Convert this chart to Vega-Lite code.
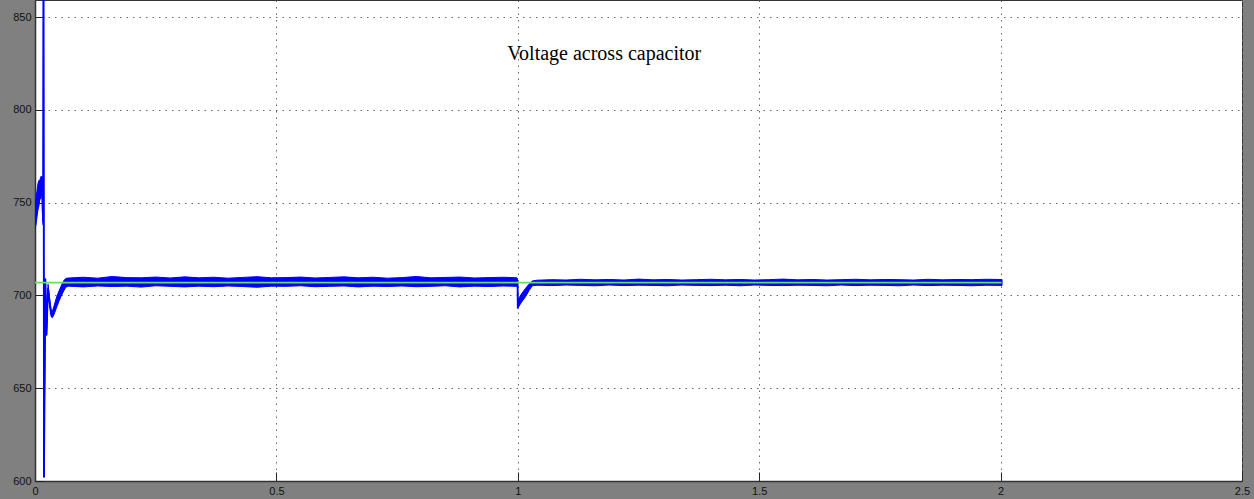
{
  "$schema": "https://vega.github.io/schema/vega-lite/v6.json",
  "width": 1207,
  "height": 481,
  "autosize": {"type": "none"},
  "padding": {"left": 35, "top": 0, "right": 12, "bottom": 18},
  "background": "#808080",
  "config": {
    "view": {"fill": "white", "stroke": "#333333", "strokeWidth": 1},
    "axis": {
      "grid": true, "gridColor": "#666666", "gridDash": [1.5, 5], "gridWidth": 1,
      "domainColor": "#333333", "domainWidth": 1.5,
      "tickColor": "#222222", "tickSize": -9, "labelPadding": 13,
      "labelFont": "Liberation Sans", "labelFontSize": 11, "labelColor": "#111111",
      "labelFlush": false, "labelOverlap": false, "title": null
    }
  },
  "datasets": {
    "vc": [
      {"t": 0.0, "v": 740, "lo": 736, "hi": 748},
      {"t": 0.002, "v": 748, "lo": 738, "hi": 752},
      {"t": 0.004, "v": 744, "lo": 742, "hi": 756},
      {"t": 0.006, "v": 756, "lo": 746, "hi": 760},
      {"t": 0.008, "v": 750, "lo": 748, "hi": 762},
      {"t": 0.010, "v": 760, "lo": 752, "hi": 762},
      {"t": 0.012, "v": 756, "lo": 752, "hi": 764},
      {"t": 0.0145, "v": 764, "lo": 756, "hi": 764},
      {"t": 0.016, "v": 745, "lo": 740, "hi": 752},
      {"t": 0.017, "v": 740, "lo": 738, "hi": 742},
      {"t": 0.0176, "v": 900, "lo": 900, "hi": 900},
      {"t": 0.0186, "v": 602, "lo": 602, "hi": 602},
      {"t": 0.0215, "v": 709, "lo": 709, "hi": 709},
      {"t": 0.0238, "v": 678.5, "lo": 678.5, "hi": 678.5},
      {"t": 0.027, "v": 704, "lo": 702, "hi": 706},
      {"t": 0.030, "v": 697, "lo": 695, "hi": 699},
      {"t": 0.0335, "v": 690, "lo": 688.5, "hi": 692},
      {"t": 0.036, "v": 689.5, "lo": 688, "hi": 691.5},
      {"t": 0.039, "v": 691.5, "lo": 689.5, "hi": 694},
      {"t": 0.044, "v": 695.5, "lo": 693, "hi": 698.5},
      {"t": 0.049, "v": 699, "lo": 696.5, "hi": 702},
      {"t": 0.054, "v": 702, "lo": 699.5, "hi": 705},
      {"t": 0.0596, "v": 705, "lo": 702.5, "hi": 708},
      {"t": 0.064, "v": 706.5, "lo": 704.5, "hi": 709.2},
      {"t": 0.07, "v": 707, "lo": 705.0, "hi": 709.4},
      {"t": 0.10, "v": 707, "lo": 704.6, "hi": 709.8},
      {"t": 0.13, "v": 707, "lo": 705.1, "hi": 709.3},
      {"t": 0.16, "v": 707, "lo": 704.8, "hi": 710.2},
      {"t": 0.19, "v": 707, "lo": 705.0, "hi": 709.6},
      {"t": 0.22, "v": 707, "lo": 704.5, "hi": 709.5},
      {"t": 0.25, "v": 707, "lo": 705.2, "hi": 709.9},
      {"t": 0.28, "v": 707, "lo": 704.9, "hi": 709.4},
      {"t": 0.31, "v": 707, "lo": 704.6, "hi": 710.0},
      {"t": 0.34, "v": 707, "lo": 705.0, "hi": 709.5},
      {"t": 0.37, "v": 707, "lo": 704.7, "hi": 709.8},
      {"t": 0.40, "v": 707, "lo": 705.1, "hi": 709.3},
      {"t": 0.43, "v": 707, "lo": 704.8, "hi": 709.7},
      {"t": 0.46, "v": 707, "lo": 704.4, "hi": 710.1},
      {"t": 0.49, "v": 707, "lo": 705.0, "hi": 709.5},
      {"t": 0.52, "v": 707, "lo": 704.9, "hi": 709.6},
      {"t": 0.55, "v": 707, "lo": 705.2, "hi": 709.9},
      {"t": 0.58, "v": 707, "lo": 704.7, "hi": 709.4},
      {"t": 0.61, "v": 707, "lo": 704.9, "hi": 709.7},
      {"t": 0.64, "v": 707, "lo": 705.1, "hi": 710.0},
      {"t": 0.67, "v": 707, "lo": 704.6, "hi": 709.5},
      {"t": 0.70, "v": 707, "lo": 705.0, "hi": 709.8},
      {"t": 0.73, "v": 707, "lo": 704.8, "hi": 709.3},
      {"t": 0.76, "v": 707, "lo": 705.1, "hi": 709.6},
      {"t": 0.79, "v": 707, "lo": 704.7, "hi": 710.2},
      {"t": 0.82, "v": 707, "lo": 704.9, "hi": 709.5},
      {"t": 0.85, "v": 707, "lo": 705.2, "hi": 709.7},
      {"t": 0.88, "v": 707, "lo": 704.6, "hi": 709.9},
      {"t": 0.91, "v": 707, "lo": 705.0, "hi": 709.4},
      {"t": 0.94, "v": 707, "lo": 704.8, "hi": 709.6},
      {"t": 0.97, "v": 707, "lo": 705.1, "hi": 709.8},
      {"t": 0.998, "v": 707, "lo": 704.9, "hi": 709.5},
      {"t": 0.9995, "v": 706, "lo": 704.5, "hi": 709.0},
      {"t": 1.0, "v": 693, "lo": 693, "hi": 697},
      {"t": 1.002, "v": 696, "lo": 694, "hi": 698.4},
      {"t": 1.008, "v": 698.8, "lo": 696.5, "hi": 701},
      {"t": 1.016, "v": 701.5, "lo": 699.3, "hi": 703.8},
      {"t": 1.023, "v": 704.3, "lo": 702.5, "hi": 706},
      {"t": 1.03, "v": 706.5, "lo": 705.2, "hi": 707.8},
      {"t": 1.04, "v": 707, "lo": 705.5, "hi": 708.2},
      {"t": 1.07, "v": 707, "lo": 705.3, "hi": 708.5},
      {"t": 1.10, "v": 707, "lo": 705.6, "hi": 708.3},
      {"t": 1.13, "v": 707, "lo": 705.4, "hi": 708.7},
      {"t": 1.16, "v": 707, "lo": 705.2, "hi": 708.4},
      {"t": 1.19, "v": 707, "lo": 705.6, "hi": 708.6},
      {"t": 1.22, "v": 707, "lo": 705.3, "hi": 708.3},
      {"t": 1.25, "v": 707, "lo": 705.5, "hi": 708.8},
      {"t": 1.28, "v": 707, "lo": 705.4, "hi": 708.4},
      {"t": 1.31, "v": 707, "lo": 705.2, "hi": 708.6},
      {"t": 1.34, "v": 707, "lo": 705.6, "hi": 708.3},
      {"t": 1.37, "v": 707, "lo": 705.4, "hi": 708.5},
      {"t": 1.40, "v": 707, "lo": 705.3, "hi": 708.7},
      {"t": 1.43, "v": 707, "lo": 705.5, "hi": 708.4},
      {"t": 1.46, "v": 707, "lo": 705.2, "hi": 708.6},
      {"t": 1.49, "v": 707, "lo": 705.6, "hi": 708.3},
      {"t": 1.52, "v": 707, "lo": 705.4, "hi": 708.5},
      {"t": 1.55, "v": 707, "lo": 705.3, "hi": 708.8},
      {"t": 1.58, "v": 707, "lo": 705.5, "hi": 708.4},
      {"t": 1.61, "v": 707, "lo": 705.4, "hi": 708.6},
      {"t": 1.64, "v": 707, "lo": 705.2, "hi": 708.3},
      {"t": 1.67, "v": 707, "lo": 705.6, "hi": 708.5},
      {"t": 1.70, "v": 707, "lo": 705.3, "hi": 708.7},
      {"t": 1.73, "v": 707, "lo": 705.5, "hi": 708.4},
      {"t": 1.76, "v": 707, "lo": 705.4, "hi": 708.6},
      {"t": 1.79, "v": 707, "lo": 705.2, "hi": 708.5},
      {"t": 1.82, "v": 707, "lo": 705.6, "hi": 708.3},
      {"t": 1.85, "v": 707, "lo": 705.3, "hi": 708.7},
      {"t": 1.88, "v": 707, "lo": 705.5, "hi": 708.4},
      {"t": 1.91, "v": 707, "lo": 705.4, "hi": 708.6},
      {"t": 1.94, "v": 707, "lo": 705.2, "hi": 708.5},
      {"t": 1.97, "v": 707, "lo": 705.5, "hi": 708.7},
      {"t": 2.003, "v": 707, "lo": 705.4, "hi": 708.6}
    ],
    "ref": [
      {"t": 0.0, "r": 706.9},
      {"t": 2.002, "r": 706.9}
    ]
  },
  "layer": [
    {
      "data": {"name": "vc"},
      "mark": {"type": "area", "fill": "#0000ff", "stroke": "#0000ff", "strokeWidth": 1, "fillOpacity": 1, "opacity": 1, "clip": true},
      "encoding": {
        "x": {"field": "t", "type": "quantitative",
              "scale": {"domain": [0, 2.5], "nice": false, "zero": false},
              "axis": {"values": [0, 0.5, 1, 1.5, 2, 2.5], "format": "~g"}},
        "y": {"field": "lo", "type": "quantitative",
              "scale": {"domain": [600, 859.2], "nice": false, "zero": false},
              "axis": {"values": [600, 650, 700, 750, 800, 850], "format": "d"}},
        "y2": {"field": "hi"}
      }
    },
    {
      "data": {"name": "vc"},
      "mark": {"type": "line", "color": "#0000ff", "strokeWidth": 1.8, "clip": true},
      "encoding": {
        "x": {"field": "t", "type": "quantitative"},
        "y": {"field": "v", "type": "quantitative"}
      }
    },
    {
      "data": {"name": "ref"},
      "mark": {"type": "line", "color": "#5fe35f", "strokeWidth": 1.6, "clip": true},
      "encoding": {
        "x": {"field": "t", "type": "quantitative"},
        "y": {"field": "r", "type": "quantitative"}
      }
    },
    {
      "data": {"values": [{}]},
      "mark": {"type": "text", "text": "Voltage across capacitor", "font": "Liberation Serif",
               "fontSize": 20, "color": "#000000", "align": "center", "baseline": "alphabetic"},
      "encoding": {
        "x": {"datum": 1.179, "type": "quantitative"},
        "y": {"datum": 826.8, "type": "quantitative"}
      }
    }
  ]
}
